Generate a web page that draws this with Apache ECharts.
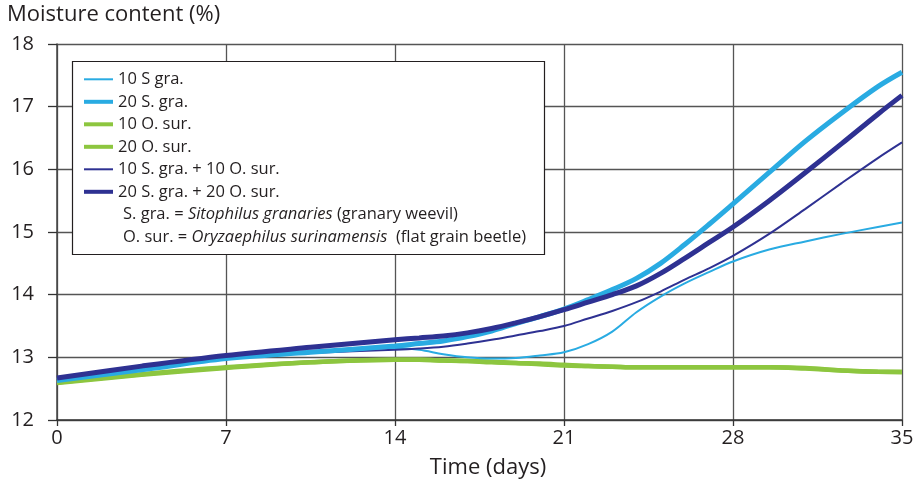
<!DOCTYPE html>
<html>
<head>
<meta charset="utf-8">
<style>
  html, body { margin: 0; padding: 0; background: #fff; }
  #chart { width: 923px; height: 485px; }
</style>
<script src="https://cdn.jsdelivr.net/npm/echarts@6/dist/echarts.min.js"></script>
</head>
<body>
<div id="chart"></div>
<script>
// time axis (days), shared by every series
var days = [0, 3.5, 7, 10.5, 14, 15, 16, 17, 18, 19, 20, 21, 22, 23, 24, 25, 26, 27, 28, 29.5, 31, 32.5, 34, 35];
var xTicks = [0, 7, 14, 21, 28, 35];
var yTicks = [12, 13, 14, 15, 16, 17, 18];

// moisture content (%)
var sGra10 = [12.65, 12.82, 12.99, 13.1, 13.15, 13.12, 13.05, 13.0, 12.98, 12.99, 13.03, 13.08, 13.21, 13.41, 13.72, 13.97, 14.18, 14.36, 14.53, 14.72, 14.85, 14.97, 15.08, 15.15];
var sGra20 = [12.63, 12.8, 12.98, 13.08, 13.18, 13.22, 13.26, 13.33, 13.42, 13.54, 13.65, 13.77, 13.92, 14.08, 14.26, 14.5, 14.8, 15.12, 15.45, 15.95, 16.45, 16.9, 17.32, 17.55];
var oSur10 = [12.6, 12.73, 12.84, 12.92, 12.96, 12.96, 12.95, 12.94, 12.93, 12.91, 12.9, 12.88, 12.86, 12.85, 12.84, 12.84, 12.84, 12.84, 12.84, 12.84, 12.83, 12.79, 12.77, 12.77];
var oSur20 = [12.59, 12.72, 12.83, 12.92, 12.96, 12.96, 12.95, 12.94, 12.92, 12.91, 12.89, 12.87, 12.86, 12.85, 12.84, 12.84, 12.84, 12.84, 12.84, 12.84, 12.82, 12.79, 12.77, 12.76];
var mix10 = [12.66, 12.84, 13.0, 13.07, 13.12, 13.14, 13.17, 13.22, 13.28, 13.35, 13.42, 13.5, 13.62, 13.74, 13.88, 14.05, 14.24, 14.42, 14.62, 14.97, 15.37, 15.78, 16.18, 16.43];
var mix20 = [12.67, 12.86, 13.03, 13.16, 13.28, 13.31, 13.34, 13.39, 13.46, 13.55, 13.65, 13.76, 13.88, 14.0, 14.14, 14.34, 14.58, 14.83, 15.08, 15.5, 15.95, 16.41, 16.88, 17.18];

var names = ['10 S gra.', '20 S. gra.', '10 O. sur.', '20 O. sur.', '10 S. gra. + 10 O. sur.', '20 S. gra. + 20 O. sur.'];
// legend sample thickness, same order as names
var legendThick = [2, 4, 4, 4, 2, 4];

var lightBlue = '#29abe2';
var green = '#8dc63f';
var navy = '#2e3192';
var ink = '#231f20';
var font = 'Open Sans';
var legendSize = 16.5;

function pairs(ys) {
    var out = [];
    for (var i = 0; i < days.length; i++) {
        out.push([days[i], ys[i]]);
    }
    return out;
}

function line(name, ys, color, width) {
    return {
        name: name,
        type: 'line',
        data: pairs(ys),
        smooth: 0.35,
        symbol: 'none',
        lineStyle: { color: color, width: width },
        itemStyle: { color: color }
    };
}

// one legend block per row so each sample can have its own thickness
function legends() {
    var arr = [];
    for (var i = 0; i < names.length; i++) {
        arr.push({
            data: [names[i]],
            orient: 'vertical',
            left: 84,
            top: 79.3 + 22.5 * i - 9,
            padding: 0,
            z: 20,
            icon: 'rect',
            itemWidth: 29,
            itemHeight: legendThick[i],
            selectedMode: false,
            textStyle: { fontSize: legendSize, lineHeight: 18, color: ink, fontFamily: font }
        });
    }
    return arr;
}

function note(text, top) {
    return {
        type: 'text',
        z: 20,
        left: 123,
        top: top,
        style: {
            text: text,
            fontSize: legendSize, lineHeight: 18, fill: ink, fontFamily: font,
            rich: { i: { fontStyle: 'italic', fontSize: legendSize, lineHeight: 18, fill: ink, fontFamily: font } }
        }
    };
}

var chart = echarts.init(document.getElementById('chart'));

var option = {
    animation: false,
    textStyle: { fontFamily: font, color: ink },
    grid: { left: 57, right: 21, top: 44, bottom: 65 },
    xAxis: {
        type: 'value',
        min: xTicks[0],
        max: xTicks[xTicks.length - 1],
        interval: 7,
        name: 'Time (days)',
        nameLocation: 'middle',
        nameGap: 37,
        nameTextStyle: { fontSize: 22, color: ink, fontFamily: font, padding: [0, 0, 0, 17] },
        axisLine: { lineStyle: { color: '#333', width: 1.5 } },
        axisTick: { show: true, length: 6, lineStyle: { color: '#333', width: 1.3 } },
        axisLabel: { fontSize: 20, color: ink, margin: 8, fontFamily: font },
        splitLine: { show: true, lineStyle: { color: '#555', width: 1.3 } }
    },
    yAxis: {
        type: 'value',
        min: yTicks[0],
        max: yTicks[yTicks.length - 1],
        interval: 1,
        axisLine: { show: true, lineStyle: { color: '#444', width: 1.5 } },
        axisTick: { show: true, length: 9, lineStyle: { color: '#333', width: 1.3 } },
        axisLabel: { fontSize: 20, color: ink, margin: 23, fontFamily: font },
        splitLine: { show: true, lineStyle: { color: '#555', width: 1.3 } }
    },
    legend: legends(),
    graphic: [
        {
            type: 'rect',
            z: 15,
            shape: { x: 72.5, y: 61.5, width: 472, height: 193 },
            style: { fill: '#fff', stroke: '#231f20', lineWidth: 1.2 }
        },
        {
            type: 'text',
            z: 20,
            left: 7,
            top: 4,
            style: { text: 'Moisture content (%)', fontSize: 22, fill: ink, fontFamily: font }
        },
        note('S. gra. = {i|Sitophilus granaries} (granary weevil)', 205),
        note('O. sur. = {i|Oryzaephilus surinamensis}  (flat grain beetle)', 228)
    ],
    series: [
        line(names[2], oSur10, green, 4.5),
        line(names[3], oSur20, green, 4.5),
        line(names[0], sGra10, lightBlue, 2),
        line(names[4], mix10, navy, 2),
        line(names[1], sGra20, lightBlue, 5),
        line(names[5], mix20, navy, 5)
    ]
};

chart.setOption(option);
</script>
</body>
</html>
